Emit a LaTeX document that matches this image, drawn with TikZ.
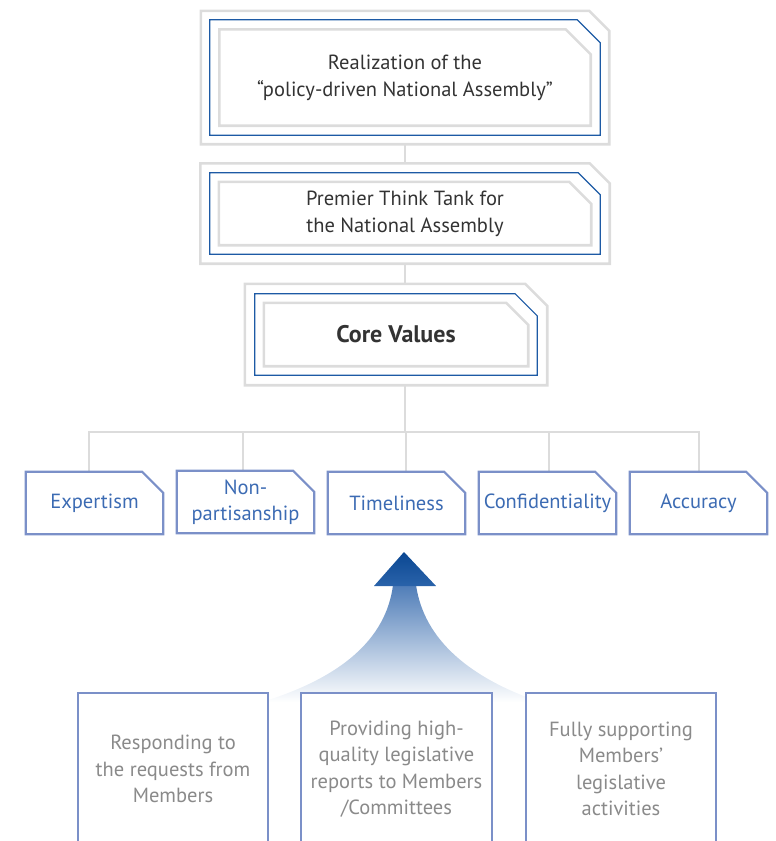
\documentclass[tikz,border=0pt]{standalone}
\usepackage{fontspec}
\setmainfont{PT Sans}
\usetikzlibrary{calc}
\definecolor{framegray}{HTML}{DCDCDC}
\definecolor{frameblue}{HTML}{1D5AA5}
\definecolor{valborder}{HTML}{7B90C8}
\definecolor{valtext}{HTML}{3C6BB3}
\definecolor{bottext}{HTML}{8A8A8A}
\definecolor{darktext}{HTML}{333333}
\definecolor{headtop}{HTML}{0A4792}
\definecolor{headbot}{HTML}{2A63AA}
\definecolor{shafttop}{HTML}{4F7DB8}
\definecolor{shaftmid}{HTML}{B4C6E2}
\newcommand\chamfer[4]{% node, offset, cut, style
  \draw[#4] ($(#1.south west)+(-#2,-#2)$) -- ($(#1.north west)+(-#2,#2)$)
    -- ($(#1.north east)+({#2-#3},#2)$) -- ($(#1.north east)+(#2,{#2-#3})$)
    -- ($(#1.south east)+(#2,-#2)$) -- cycle;}
\tikzset{
  topbox/.style={inner sep=0pt, align=center, text=darktext, font=\fontsize{20.5}{27}\selectfont},
  gframe/.style={draw=framegray, line width=2.6pt},
  bframe/.style={draw=frameblue, line width=1.2pt},
  valbox/.style={minimum width=137pt, minimum height=62pt, inner sep=0pt, align=center,
     text=valtext, font=\fontsize{20.5}{26}\selectfont},
  valframe/.style={draw=valborder, line width=2.2pt, line join=miter},
  botbox/.style={minimum width=190pt, minimum height=152pt, inner sep=0pt, align=center,
     text=bottext, font=\fontsize{20.5}{26.5}\selectfont},
  botframe/.style={draw=valborder, line width=2.2pt},
  conn/.style={draw=framegray, line width=2.6pt},
}
\begin{document}
\begin{tikzpicture}[x=1pt,y=1pt]
\useasboundingbox (0,0) rectangle (776,-841);
\clip (0,0) rectangle (776,-841);
% top boxes
\node[topbox, minimum width=390pt, minimum height=115pt] (b1) at (405,-77.5)
  {Realization of the\\``policy-driven National Assembly''};
\node[topbox, minimum width=390pt, minimum height=81pt] (b2) at (405,-213.5)
  {Premier Think Tank for\\the National Assembly};
\node[topbox, minimum width=282pt, minimum height=81pt, font=\fontsize{24}{27}\selectfont\bfseries] (b3) at (396,-334.5)
  {Core Values};
\chamfer{b1}{9}{20}{gframe}
\chamfer{b1}{0}{23}{bframe}
\chamfer{b1}{-9.5}{25}{gframe}
\chamfer{b2}{9.5}{20}{gframe}
\chamfer{b2}{0}{22}{bframe}
\chamfer{b2}{-9}{22}{gframe}
\chamfer{b3}{10}{22}{gframe}
\chamfer{b3}{0}{22}{bframe}
\chamfer{b3}{-9}{22}{gframe}
% connectors
\coordinate (barc) at (405,-432);
\draw[conn] ($(b1.south)+(0,-9)$) -- ($(b2.north)+(0,9.5)$);
\draw[conn] ($(b2.south)+(0,-9.5)$) -- ($(b2.south |- b3.north)+(0,10)$);
\draw[conn] ($(b2.south |- b3.south)+(0,-10)$) -- (barc);
% value boxes
\node[valbox] (e1) at (94.5,-503) {Expertism};
\node[valbox] (e2) at (245.5,-502) {Non-\\partisanship};
\node[valbox] (e3) at (396.5,-503) {Timeliness};
\node[valbox] (e4) at (547.5,-503) {Confidentiality};
\node[valbox] (e5) at (698.5,-503) {Accuracy};
\draw[conn] ([xshift=-5.5pt]e1.north) |- (barc);
\draw[conn] ([xshift=-2.5pt]e2.north) |- (barc);
\draw[conn] ([xshift=9.5pt]e3.north) -- ([xshift=9.5pt]e3.north |- barc);
\draw[conn] ([xshift=1.5pt]e4.north) |- (barc);
\draw[conn] ([xshift=0.5pt]e5.north) |- (barc);
\foreach \n in {e1,e2,e3,e4,e5}{\chamfer{\n}{0}{21}{valframe}}
% arrow
\shade[top color=shafttop, middle color=shaftmid, bottom color=white]
  (393,-585) .. controls (386,-640) and (340,-678) .. (262,-702)
  -- (540,-702) .. controls (470,-678) and (424,-640) .. (416,-585) -- cycle;
\shade[top color=headtop, bottom color=headbot]
  (404,-552) -- (436,-586) -- (374,-586) -- cycle;
% bottom boxes
\node[botbox] (m1) at (173,-769) {};
\node[botbox] (m2) at (396.5,-769) {};
\node[botbox] (m3) at (621,-769) {};
\foreach \n in {m1,m2,m3}{
  \fill[white] (\n.south west) rectangle (\n.north east);
  \draw[botframe] (\n.south west) -- (\n.north west) -- (\n.north east) -- (\n.south east);}
\node[botbox] (t1) at (m1) {Responding to\\the requests from\\Members};
\node[botbox] (t2) at (m2) {Providing high-\\quality legislative\\reports to Members\\/Committees};
\node[botbox] (t3) at (m3) {Fully supporting\\Members'\\legislative\\activities};
\end{tikzpicture}
\end{document}
